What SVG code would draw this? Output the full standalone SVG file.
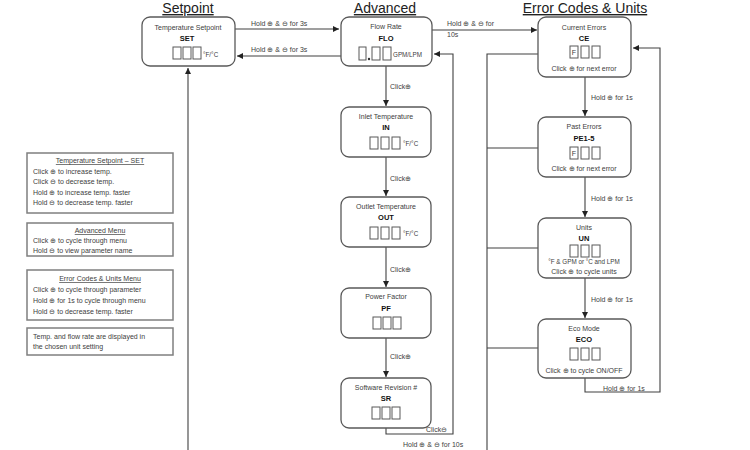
<svg xmlns="http://www.w3.org/2000/svg" width="750" height="450" viewBox="0 0 750 450">
<style>
.bg{fill:#fff}
.node{fill:#fff;stroke:#595959;stroke-width:1.3}
.leg{fill:#fff;stroke:#7f7f7f;stroke-width:1.5}
.t{font-family:"Liberation Sans",Arial,sans-serif;font-size:7px;fill:#404040}
.c{text-anchor:middle}
.b{font-weight:bold;fill:#111;font-size:7.5px}
.u{text-decoration:underline}
.title{font-family:"Liberation Sans",Arial,sans-serif;font-size:14px;fill:#222;text-anchor:middle;text-decoration:underline}
.dig{fill:none;stroke:#595959;stroke-width:1}
.unit{font-family:"Liberation Sans",Arial,sans-serif;font-size:6.3px;fill:#404040}
.ln{fill:none;stroke:#404040;stroke-width:1.1}
</style>
<defs>
<marker id="ah" markerUnits="userSpaceOnUse" markerWidth="7" markerHeight="7" refX="6" refY="3" orient="auto">
<path d="M0,0 L6,3 L0,6 z" fill="#222"/>
</marker>
</defs>
<rect class="bg" x="0" y="0" width="750" height="450"/>

<text class="title" x="188" y="13">Setpoint</text>
<text class="title" x="385" y="13">Advanced</text>
<text class="title" x="585" y="13">Error Codes &amp; Units</text>

<g id="connectors">
<path class="ln" d="M235,29 H339" marker-end="url(#ah)"/>
<path class="ln" d="M341,56 H237" marker-end="url(#ah)"/>
<path class="ln" d="M432,30 H537" marker-end="url(#ah)"/>
<path class="ln" d="M386,428 V434 H453 V54 H434" marker-end="url(#ah)"/>
<path class="ln" d="M386,66 V106" marker-end="url(#ah)"/>
<path class="ln" d="M386,157 V196" marker-end="url(#ah)"/>
<path class="ln" d="M386,247 V287" marker-end="url(#ah)"/>
<path class="ln" d="M386,338 V377" marker-end="url(#ah)"/>
<path class="ln" d="M188,450 V68" marker-end="url(#ah)"/>
<path class="ln" d="M538,54 H487 V450 M538,148 H487 M538,248 H487 M538,348 H487"/>
<path class="ln" d="M585,77 V116" marker-end="url(#ah)"/>
<path class="ln" d="M585,177 V217" marker-end="url(#ah)"/>
<path class="ln" d="M585,278 V318" marker-end="url(#ah)"/>
<path class="ln" d="M585,378 V392 H660 V48 H633" marker-end="url(#ah)"/>
<text class="t" x="251" y="26">Hold ⊕ &amp; ⊖ for 3s</text>
<text class="t" x="251" y="52">Hold ⊕ &amp; ⊖ for 3s</text>
<text class="t" x="447" y="26">Hold ⊕ &amp; ⊖ for</text>
<text class="t" x="447" y="37">10s</text>
<text class="t" x="390" y="89">Click⊕</text>
<text class="t" x="390" y="181">Click⊕</text>
<text class="t" x="390" y="272">Click⊕</text>
<text class="t" x="390" y="359">Click⊕</text>
<text class="t" x="426" y="432">Click⊖</text>
<text class="t" x="403" y="447">Hold ⊕ &amp; ⊖ for 10s</text>
<text class="t" x="591" y="100">Hold ⊕ for 1s</text>
<text class="t" x="591" y="201">Hold ⊕ for 1s</text>
<text class="t" x="591" y="302">Hold ⊕ for 1s</text>
<text class="t" x="603" y="391">Hold ⊕ for 1s</text>
</g>

<g id="setpoint">
<rect class="node" x="142" y="17" width="93" height="49" rx="8"/>
<text class="t c" x="188" y="30">Temperature Setpoint</text>
<text class="t c b" x="187" y="41">SET</text>
<rect class="dig" x="173" y="47" width="8" height="12"/>
<rect class="dig" x="183" y="47" width="8" height="12"/>
<rect class="dig" x="193" y="47" width="8" height="12"/>
<text class="unit" x="203" y="57">°F/°C</text>
</g>

<g id="flow">
<rect class="node" x="341" y="17" width="91" height="49" rx="8"/>
<text class="t c" x="386" y="29">Flow Rate</text>
<text class="t c b" x="386" y="41">FLO</text>
<rect class="dig" x="359" y="47" width="7" height="13"/>
<circle cx="369" cy="59" r="1.2" fill="#333"/>
<rect class="dig" x="372" y="47" width="8" height="13"/>
<rect class="dig" x="383" y="47" width="8" height="13"/>
<text class="unit" x="393" y="57">GPM/LPM</text>
</g>

<g id="inlet">
<rect class="node" x="341" y="107" width="90" height="50" rx="8"/>
<text class="t c" x="386" y="119">Inlet Temperature</text>
<text class="t c b" x="386" y="130">IN</text>
<rect class="dig" x="370" y="137" width="8" height="12"/>
<rect class="dig" x="381" y="137" width="8" height="12"/>
<rect class="dig" x="392" y="137" width="8" height="12"/>
<text class="unit" x="403" y="146">°F/°C</text>
</g>

<g id="outlet">
<rect class="node" x="341" y="197" width="90" height="50" rx="8"/>
<text class="t c" x="386" y="209">Outlet Temperature</text>
<text class="t c b" x="386" y="220">OUT</text>
<rect class="dig" x="370" y="227" width="8" height="12"/>
<rect class="dig" x="381" y="227" width="8" height="12"/>
<rect class="dig" x="392" y="227" width="8" height="12"/>
<text class="unit" x="403" y="236">°F/°C</text>
</g>

<g id="power">
<rect class="node" x="341" y="288" width="90" height="50" rx="8"/>
<text class="t c" x="386" y="299">Power Factor</text>
<text class="t c b" x="386" y="311">PF</text>
<rect class="dig" x="373" y="317" width="8" height="12"/>
<rect class="dig" x="383" y="317" width="8" height="12"/>
<rect class="dig" x="393" y="317" width="8" height="12"/>
</g>

<g id="software">
<rect class="node" x="341" y="378" width="90" height="50" rx="8"/>
<text class="t c" x="386" y="390">Software Revision #</text>
<text class="t c b" x="386" y="401">SR</text>
<rect class="dig" x="372" y="407" width="8" height="12"/>
<rect class="dig" x="382" y="407" width="8" height="12"/>
<rect class="dig" x="392" y="407" width="8" height="12"/>
</g>

<g id="current">
<rect class="node" x="538" y="17" width="93" height="60" rx="8"/>
<text class="t c" x="584" y="30">Current Errors</text>
<text class="t c b" x="584" y="41">CE</text>
<rect class="dig" x="570" y="46" width="8" height="12"/>
<text class="t c" x="574" y="55">F</text>
<rect class="dig" x="581" y="46" width="8" height="12"/>
<rect class="dig" x="592" y="46" width="8" height="12"/>
<text class="t c" x="584" y="71">Click ⊕ for next error</text>
</g>

<g id="past">
<rect class="node" x="538" y="117" width="93" height="60" rx="8"/>
<text class="t c" x="584" y="129">Past Errors</text>
<text class="t c b" x="584" y="141">PE1-5</text>
<rect class="dig" x="570" y="147" width="8" height="12"/>
<text class="t c" x="574" y="156">F</text>
<rect class="dig" x="581" y="147" width="8" height="12"/>
<rect class="dig" x="592" y="147" width="8" height="12"/>
<text class="t c" x="584" y="171">Click ⊕ for next error</text>
</g>

<g id="units">
<rect class="node" x="538" y="218" width="93" height="60" rx="8"/>
<text class="t c" x="584" y="230">Units</text>
<text class="t c b" x="584" y="241">UN</text>
<rect class="dig" x="570" y="245" width="8" height="12"/>
<rect class="dig" x="581" y="245" width="8" height="12"/>
<rect class="dig" x="592" y="245" width="8" height="12"/>
<text class="unit c" x="584" y="264">°F &amp; GPM or °C and LPM</text>
<text class="t c" x="584" y="274">Click ⊕ to cycle units</text>
</g>

<g id="eco">
<rect class="node" x="538" y="319" width="93" height="59" rx="8"/>
<text class="t c" x="584" y="331">Eco Mode</text>
<text class="t c b" x="584" y="342">ECO</text>
<rect class="dig" x="570" y="348" width="8" height="12"/>
<rect class="dig" x="581" y="348" width="8" height="12"/>
<rect class="dig" x="592" y="348" width="8" height="12"/>
<text class="t c" x="584" y="373">Click ⊕ to cycle ON/OFF</text>
</g>

<g id="legend-setpoint">
<rect class="leg" x="27" y="153" width="146" height="60"/>
<text class="t c u" x="100" y="163">Temperature Setpoint – SET</text>
<text class="t" x="33" y="174">Click ⊕ to increase temp.</text>
<text class="t" x="33" y="184">Click ⊖ to decrease temp.</text>
<text class="t" x="33" y="195">Hold ⊕ to increase temp. faster</text>
<text class="t" x="33" y="205">Hold ⊖ to decrease temp. faster</text>
</g>

<g id="legend-advanced">
<rect class="leg" x="27" y="223" width="146" height="33"/>
<text class="t c u" x="100" y="233">Advanced Menu</text>
<text class="t" x="33" y="243">Click ⊕ to cycle through menu</text>
<text class="t" x="33" y="253">Hold ⊖ to view parameter name</text>
</g>

<g id="legend-error">
<rect class="leg" x="27" y="270" width="146" height="50"/>
<text class="t c u" x="100" y="281">Error Codes &amp; Units Menu</text>
<text class="t" x="33" y="292">Click ⊕ to cycle through parameter</text>
<text class="t" x="33" y="303">Hold ⊕ for 1s to cycle through menu</text>
<text class="t" x="33" y="314">Hold ⊖ to decrease temp. faster</text>
</g>

<g id="legend-note">
<rect class="leg" x="27" y="328" width="146" height="27"/>
<text class="t" x="33" y="339">Temp. and flow rate are displayed in</text>
<text class="t" x="33" y="349">the chosen unit setting</text>
</g>
</svg>
